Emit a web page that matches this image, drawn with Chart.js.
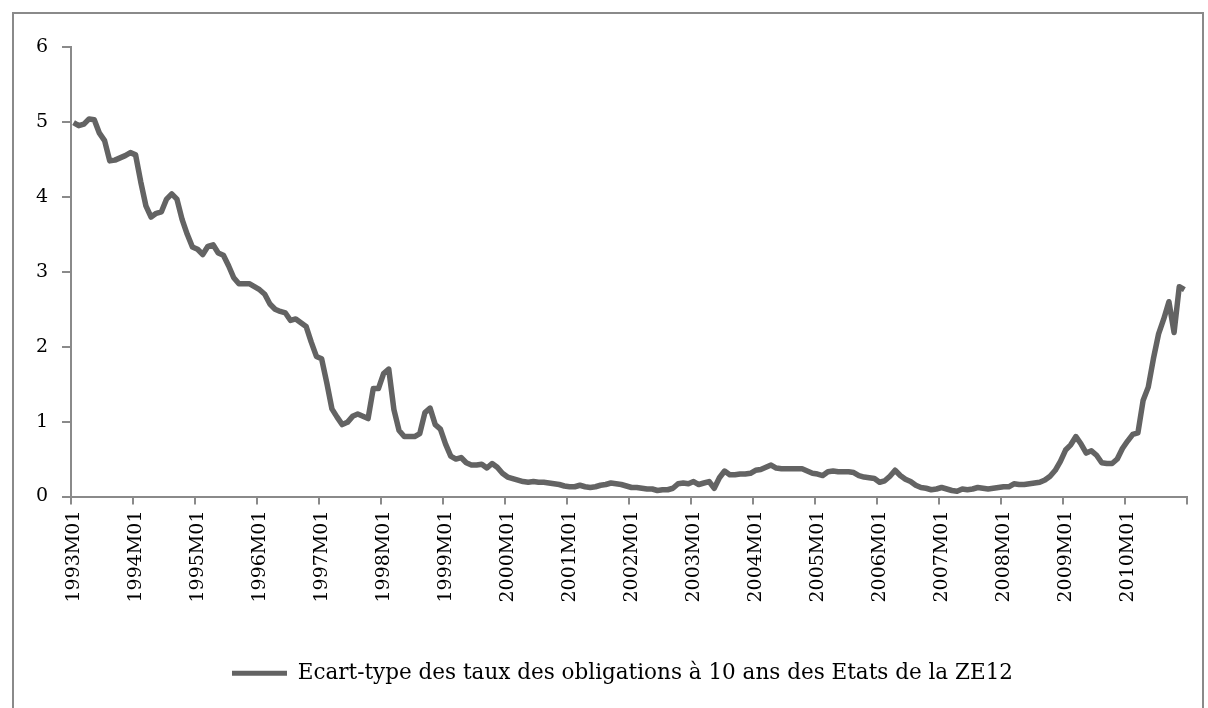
<!DOCTYPE html>
<html>
<head>
<meta charset="utf-8">
<script src="https://cdn.jsdelivr.net/npm/chart.js@4"></script>
<style>
	html, body { margin: 0; padding: 0; background: #fff; }
	#wrap { position: relative; width: 1208px; height: 708px; overflow: hidden; }
	#frame { position: absolute; left: 12px; top: 12px; width: 1192px; height: 720px; border: 2px solid #8a8a8a; box-sizing: border-box; }
	#chart { position: absolute; left: 0; top: 0; }
</style>
</head>
<body>
<div id="wrap">
	<div id="frame"></div>
	<canvas id="chart" width="1208" height="708"></canvas>
</div>
<script>
// years covered, one label per month (1993M01 ... 2010M12)
const years = [1993, 1994, 1995, 1996, 1997, 1998, 1999, 2000, 2001, 2002,
	2003, 2004, 2005, 2006, 2007, 2008, 2009, 2010];
const months = ['01', '02', '03', '04', '05', '06', '07', '08', '09', '10', '11', '12'];

// écart-type, one row per year
const ecartType = [
	4.99, 4.95, 4.97, 5.04, 5.03, 4.85, 4.75, 4.48, 4.49, 4.52, 4.55, 4.59,
	4.56, 4.20, 3.88, 3.73, 3.78, 3.80, 3.97, 4.04, 3.97, 3.70, 3.50, 3.33,
	3.30, 3.23, 3.34, 3.36, 3.25, 3.22, 3.08, 2.92, 2.84, 2.84, 2.84, 2.80,
	2.76, 2.70, 2.57, 2.50, 2.47, 2.45, 2.35, 2.37, 2.32, 2.27, 2.06, 1.87,
	1.84, 1.52, 1.17, 1.06, 0.96, 0.99, 1.07, 1.10, 1.07, 1.04, 1.44, 1.44,
	1.64, 1.70, 1.16, 0.88, 0.80, 0.80, 0.80, 0.84, 1.12, 1.18, 0.96, 0.90,
	0.70, 0.54, 0.50, 0.52, 0.45, 0.42, 0.42, 0.43, 0.38, 0.44, 0.39, 0.31,
	0.26, 0.24, 0.22, 0.20, 0.19, 0.20, 0.19, 0.19, 0.18, 0.17, 0.16, 0.14,
	0.13, 0.13, 0.15, 0.13, 0.12, 0.13, 0.15, 0.16, 0.18, 0.17, 0.16, 0.14,
	0.12, 0.12, 0.11, 0.10, 0.10, 0.08, 0.09, 0.09, 0.11, 0.17, 0.18, 0.17,
	0.20, 0.16, 0.18, 0.20, 0.11, 0.25, 0.34, 0.29, 0.29, 0.30, 0.30, 0.31,
	0.35, 0.36, 0.39, 0.42, 0.38, 0.37, 0.37, 0.37, 0.37, 0.37, 0.34, 0.31,
	0.30, 0.28, 0.33, 0.34, 0.33, 0.33, 0.33, 0.32, 0.28, 0.26, 0.25, 0.24,
	0.19, 0.21, 0.27, 0.35, 0.28, 0.23, 0.20, 0.15, 0.12, 0.11, 0.09, 0.10,
	0.12, 0.10, 0.08, 0.07, 0.10, 0.09, 0.10, 0.12, 0.11, 0.10, 0.11, 0.12,
	0.13, 0.13, 0.17, 0.16, 0.16, 0.17, 0.18, 0.19, 0.22, 0.27, 0.35, 0.47,
	0.62, 0.69, 0.80, 0.70, 0.58, 0.61, 0.55, 0.45, 0.44, 0.44, 0.50, 0.64,
	0.74, 0.83, 0.85, 1.28, 1.46, 1.84, 2.17, 2.37, 2.60, 2.19, 2.80, 2.76
];

const seriesName = 'Ecart-type des taux des obligations à 10 ans des Etats de la ZE12';
const yMin = 0, yMax = 6, yStep = 1;

const LINE = '#636363';
const AXIS = '#8a8a8a';
const FONT = 'DejaVu Serif';

const labels = [];
years.forEach(function(y) {
	months.forEach(function(m) { labels.push(y + 'M' + m); });
});

// la légende est centrée sous la zone du graphique, pas sous tout le canvas
const legendShift = {
	id: 'legendShift',
	afterLayout: function(chart) {
		if (chart.legend) chart.legend.left += 58;
	}
};

document.addEventListener('DOMContentLoaded', function() {
	initChart();
});

function initChart() {
	const ctx = document.getElementById('chart').getContext('2d');
	new Chart(ctx, {
		type: 'line',
		data: {
			labels: labels,
			datasets: [{
				label: seriesName,
				data: ecartType,
				borderColor: LINE,
				backgroundColor: LINE,
				borderWidth: 5.5,
				pointRadius: 0,
				tension: 0,
				borderJoinStyle: 'round',
				borderCapStyle: 'butt'
			}]
		},
		options: {
			responsive: false,
			animation: false,
			layout: { padding: { top: 47, right: 21, left: 0, bottom: 14 } },
			scales: {
				x: {
					type: 'category',
					offset: true,
					grid: {
						offset: true,
						drawOnChartArea: false,
						tickLength: 8,
						lineWidth: 2,
						color: function(c) {
							return (c.type !== 'tick' || c.index % 12 === 0) ? AXIS : 'rgba(0,0,0,0)';
						}
					},
					border: { color: AXIS, width: 2 },
					ticks: {
						autoSkip: false,
						maxRotation: 90,
						minRotation: 90,
						padding: 6,
						color: '#000',
						font: { family: FONT, size: 19 },
						callback: function(v, i) {
							return i % 12 === 0 ? labels[i] : '';
						}
					},
					afterFit: function(s) {
						s.height = 156;
						s.paddingLeft = 0;
						s.paddingRight = 0;
					}
				},
				y: {
					min: yMin,
					max: yMax,
					grid: {
						drawOnChartArea: false,
						tickLength: 9,
						lineWidth: 2,
						color: AXIS
					},
					border: { color: AXIS, width: 2 },
					ticks: {
						stepSize: yStep,
						padding: 14,
						color: '#000',
						font: { family: FONT, size: 19 }
					},
					afterFit: function(s) { s.width = 71; }
				}
			},
			plugins: {
				legend: {
					position: 'bottom',
					labels: {
						boxWidth: 55,
						boxHeight: 5,
						color: '#000',
						font: { family: FONT, size: 21.5 },
						generateLabels: function(chart) {
							const items = Chart.defaults.plugins.legend.labels.generateLabels(chart);
							items.forEach(function(it) {
								it.fillStyle = LINE;
								it.strokeStyle = LINE;
								it.lineWidth = 0;
							});
							return items;
						}
					}
				},
				tooltip: { enabled: false }
			}
		},
		plugins: [legendShift]
	});
}
</script>
</body>
</html>
